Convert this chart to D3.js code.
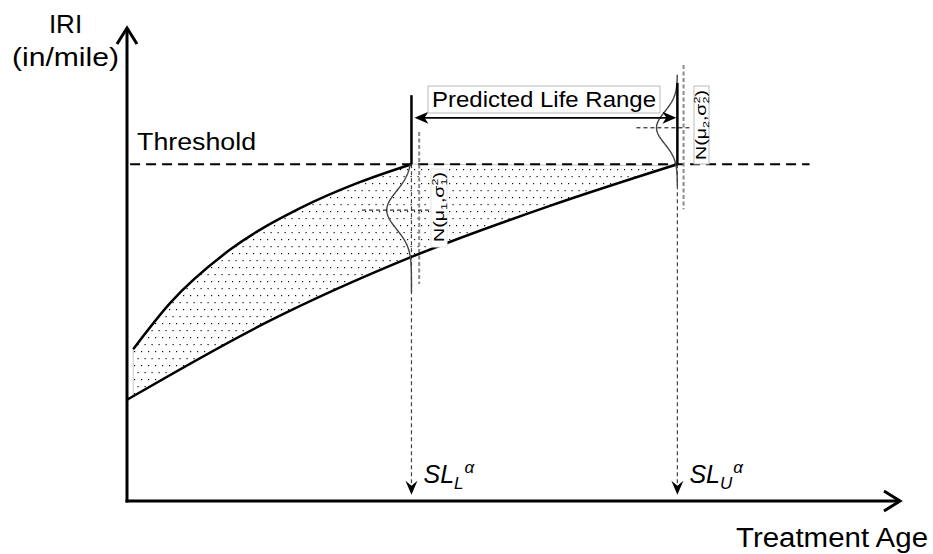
<!DOCTYPE html>
<html>
<head>
<meta charset="utf-8">
<script src="https://cdn.jsdelivr.net/npm/d3@7"></script>
<style>
  html, body { margin: 0; padding: 0; background: #fff; }
  svg { display: block; font-family: "Liberation Sans", Arial, sans-serif; }
</style>
</head>
<body>
<svg id="chart" width="933" height="554"></svg>
<script>
// Treatment age and IRI in arbitrary units (0-100 on both axes)
const upperAge = [0.8, 5.6, 13.3, 22.4, 30.1, 36.8];
const upperIRI = [32.1, 41.9, 53.1, 61.9, 67.4, 71.2];
const lowerAge = [0, 18.1, 36.8, 54.7, 71.2];
const lowerIRI = [21.4, 37.8, 51.6, 62.4, 71.2];
const threshold = 71.2;

// Service-life bounds (lower, upper) and the distributions drawn at each
const serviceLife = [36.8, 71.2];
const lifeMean = [61.5, 78.9];
const lifeSigma = [4.0, 3.4];
const lifeBulge = [3.2, 2.7];            // horizontal size of the density bump
const lifeSpan = [[44.2, 71.2], [66.6, 90.1]];
const distLabels = [["1", "1"], ["2", "2"]];

const axisTitles = { y: ["IRI", "(in/mile)"], x: "Treatment Age" };
const thresholdLabel = "Threshold";
const rangeLabel = "Predicted Life Range";
const slSubscripts = ["L", "U"];

const svg = d3.select("#chart");
const x = d3.scaleLinear().domain([0, 100]).range([127, 900]);
const y = d3.scaleLinear().domain([0, 100]).range([501, 28]);

// dotted fill pattern (staggered rows)
const defs = svg.append("defs");
const pat = defs.append("pattern").attr("id", "dots").attr("patternUnits", "userSpaceOnUse")
  .attr("width", 7).attr("height", 14);
pat.append("rect").attr("x", 1).attr("y", 1).attr("width", 1.2).attr("height", 1.2).attr("fill", "#111");
pat.append("rect").attr("x", 4.5).attr("y", 8).attr("width", 1.2).attr("height", 1.2).attr("fill", "#111");
defs.append("clipPath").attr("id", "bandClip")
  .append("rect").attr("x", x(upperAge[0])).attr("y", 0).attr("width", 933).attr("height", 554);

const upperPts = upperAge.map((a, i) => [a, upperIRI[i]]);
const lowerPts = lowerAge.map((a, i) => [a, lowerIRI[i]]);
const line = d3.line().x(d => x(d[0])).y(d => y(d[1])).curve(d3.curveMonotoneX);
const lineRev = d3.line().x(d => x(d[0])).y(d => y(d[1])).curve(d3.curveCatmullRom.alpha(0.5));

// band between the two deterioration curves, capped at the threshold
const bandTop = line(upperPts) + `L${x(serviceLife[1] - 1.5)},${y(threshold - 0.3)}`;
const bandBottom = lineRev(lowerPts.slice().reverse()).replace(/^M/, "L");
svg.append("path")
  .attr("d", bandTop + bandBottom + "Z")
  .attr("clip-path", "url(#bandClip)")
  .attr("fill", "url(#dots)")
  .attr("stroke", "#bbb").attr("stroke-width", 0.8);
svg.append("line")
  .attr("x1", x(upperAge[0])).attr("x2", x(upperAge[0]))
  .attr("y1", y(upperIRI[0])).attr("y2", y(22.0))
  .attr("stroke", "#bbb").attr("stroke-width", 0.8);

// threshold
svg.append("line")
  .attr("x1", x(0.4)).attr("x2", x(88.3))
  .attr("y1", y(threshold)).attr("y2", y(threshold))
  .attr("stroke", "#000").attr("stroke-width", 2).attr("stroke-dasharray", "10,6");
svg.append("text").attr("x", x(1.3)).attr("y", y(threshold) - 14)
  .attr("font-size", 23).attr("textLength", 119).attr("lengthAdjust", "spacingAndGlyphs")
  .text(thresholdLabel);

// grey extension lines beside each service-life bound
const greyDash = (a, v0, v1) => svg.append("line")
  .attr("x1", x(a)).attr("x2", x(a)).attr("y1", y(v0)).attr("y2", y(v1))
  .attr("stroke", "#888").attr("stroke-width", 2).attr("stroke-dasharray", "4,2.5");
greyDash(37.8, 78.0, 45.9);
greyDash(72.0, 92.2, 61.7);

// dashed drop arrows to the age axis
serviceLife.forEach((a) => {
  svg.append("line")
    .attr("x1", x(a)).attr("x2", x(a)).attr("y1", y(threshold)).attr("y2", y(1.6))
    .attr("stroke", "#444").attr("stroke-width", 1.2).attr("stroke-dasharray", "4,3");
  const tx = x(a), ty = y(1.3);
  svg.append("path")
    .attr("d", `M${tx},${ty}L${tx - 6},${ty - 14}L${tx},${ty - 9}L${tx + 6},${ty - 14}Z`)
    .attr("fill", "#000");
});

// deterioration curves
svg.append("path").attr("d", line(upperPts)).attr("fill", "none")
  .attr("stroke", "#000").attr("stroke-width", 2.5);
svg.append("path").attr("d", line(lowerPts)).attr("fill", "none")
  .attr("stroke", "#000").attr("stroke-width", 2.5);

// sideways normal densities at each bound
serviceLife.forEach((a, i) => {
  const vs = d3.range(lifeSpan[i][0], lifeSpan[i][1] + 0.01, 0.25);
  const pts = vs.map(v => [a - lifeBulge[i] * Math.exp(-((v - lifeMean[i]) ** 2) / (2 * lifeSigma[i] ** 2)), v]);
  svg.append("path")
    .attr("d", d3.line().x(d => x(d[0])).y(d => y(d[1]))(pts))
    .attr("fill", "none").attr("stroke", "#444").attr("stroke-width", 1.4);
});
// mean markers
svg.append("line").attr("x1", x(30.4)).attr("x2", x(39.1))
  .attr("y1", y(lifeMean[0])).attr("y2", y(lifeMean[0]))
  .attr("stroke", "#000").attr("stroke-width", 1).attr("stroke-dasharray", "4,3");
svg.append("line").attr("x1", x(65.9)).attr("x2", x(73.0))
  .attr("y1", y(lifeMean[1])).attr("y2", y(lifeMean[1]))
  .attr("stroke", "#000").attr("stroke-width", 1).attr("stroke-dasharray", "4,3");

// solid markers rising from the threshold
svg.append("line").attr("x1", x(serviceLife[0])).attr("x2", x(serviceLife[0]))
  .attr("y1", y(threshold)).attr("y2", y(85.8)).attr("stroke", "#000").attr("stroke-width", 2.5);
svg.append("line").attr("x1", x(serviceLife[1])).attr("x2", x(serviceLife[1]))
  .attr("y1", y(threshold)).attr("y2", y(88.4)).attr("stroke", "#000").attr("stroke-width", 2.5);

// predicted life range arrow
const ry = y(81.0);
const lx = x(serviceLife[0]) + 3, rx = x(serviceLife[1]) - 1;
svg.append("line").attr("x1", lx + 6).attr("x2", rx - 6).attr("y1", ry).attr("y2", ry)
  .attr("stroke", "#000").attr("stroke-width", 1.6);
svg.append("path").attr("d", `M${lx},${ry}L${lx + 14},${ry - 6}L${lx + 10},${ry}L${lx + 14},${ry + 6}Z`).attr("fill", "#000");
svg.append("path").attr("d", `M${rx},${ry}L${rx - 14},${ry - 6}L${rx - 10},${ry}L${rx - 14},${ry + 6}Z`).attr("fill", "#000");
svg.append("rect").attr("x", 428).attr("y", 86).attr("width", 232).attr("height", 27)
  .attr("fill", "#fff").attr("stroke", "#bbb").attr("stroke-width", 1);
svg.append("text").attr("x", 544).attr("y", 107).attr("text-anchor", "middle")
  .attr("font-size", 22).attr("textLength", 224).attr("lengthAdjust", "spacingAndGlyphs")
  .text(rangeLabel);

// distribution labels
function distLabel(cx, cy, len, box, sub) {
  svg.append("rect").attr("x", box[0]).attr("y", box[1]).attr("width", box[2]).attr("height", box[3])
    .attr("fill", "#fff").attr("stroke", box[4]).attr("stroke-width", 1);
  const t = svg.append("text")
    .attr("transform", `translate(${cx},${cy}) rotate(-90)`)
    .attr("text-anchor", "middle").attr("font-size", 14)
    .attr("textLength", len).attr("lengthAdjust", "spacingAndGlyphs");
  t.append("tspan").text("N(μ");
  t.append("tspan").attr("font-size", 9).attr("dy", 3).text(sub[0]);
  t.append("tspan").attr("dy", -3).text(",σ");
  t.append("tspan").attr("font-size", 9).attr("dy", 3).text(sub[1]);
  t.append("tspan").attr("font-size", 9).attr("dx", -5).attr("dy", -9).text("2");
  t.append("tspan").attr("dy", 6).text(")");
}
distLabel(444, 207, 70, [431, 169, 16, 78, "#e6e6e6"], distLabels[0]);
distLabel(706, 125, 70, [694, 86, 15, 78, "#bbb"], distLabels[1]);

// axes (no ticks) with open arrowheads
svg.append("g").attr("transform", `translate(0,${y(0)})`)
  .call(d3.axisBottom(x).tickValues([]).tickSizeOuter(0))
  .call(g => g.select(".domain").attr("stroke", "#000").attr("stroke-width", 3)
    .attr("d", `M${x(0) - 1.5},0H${x(100)}`));
svg.append("g").attr("transform", `translate(${x(0)},0)`)
  .call(d3.axisLeft(y).tickValues([]).tickSizeOuter(0))
  .call(g => g.select(".domain").attr("stroke", "#000").attr("stroke-width", 3)
    .attr("d", `M0,${y(0) + 1.5}V${y(100)}`));
svg.append("path")
  .attr("d", `M${x(100) - 16},${y(0) - 10}L${x(100)},${y(0)}L${x(100) - 16},${y(0) + 10}`)
  .attr("fill", "none").attr("stroke", "#000").attr("stroke-width", 3);
svg.append("path")
  .attr("d", `M${x(0) - 10},${y(100) + 16}L${x(0)},${y(100)}L${x(0) + 10},${y(100) + 16}`)
  .attr("fill", "none").attr("stroke", "#000").attr("stroke-width", 3);

// axis titles
svg.append("text").attr("x", 65.5).attr("y", 33).attr("text-anchor", "middle")
  .attr("font-size", 26).text(axisTitles.y[0]);
svg.append("text").attr("x", 65.5).attr("y", 66).attr("text-anchor", "middle")
  .attr("font-size", 26).attr("textLength", 107).attr("lengthAdjust", "spacingAndGlyphs")
  .text(axisTitles.y[1]);
svg.append("text").attr("x", 736).attr("y", 547)
  .attr("font-size", 27).attr("textLength", 192).attr("lengthAdjust", "spacingAndGlyphs")
  .text(axisTitles.x);

// SL labels
serviceLife.forEach((a, i) => {
  const t = svg.append("text").attr("x", x(a) + 12).attr("y", 483)
    .attr("font-style", "italic").attr("font-size", 25);
  t.append("tspan").text("SL");
  t.append("tspan").attr("font-size", 17).attr("dy", 6).text(slSubscripts[i]);
  t.append("tspan").attr("font-size", 17).attr("dx", 1).attr("dy", -16).text("α");
});
</script>
</body>
</html>
